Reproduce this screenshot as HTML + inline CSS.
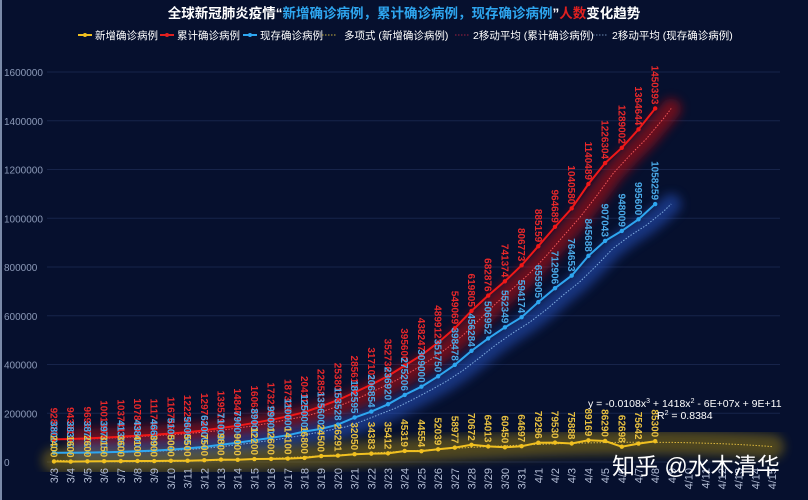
<!DOCTYPE html>
<html><head><meta charset="utf-8"><style>
html,body{margin:0;padding:0;background:#06102e;}
svg{display:block;font-family:"Liberation Sans","Noto Sans CJK SC",sans-serif;}
</style></head><body>
<svg width="808" height="500" viewBox="0 0 808 500">
<defs>
<filter id="glow" x="-20%" y="-50%" width="140%" height="200%"><feGaussianBlur stdDeviation="5"/></filter>
</defs>
<rect x="0" y="0" width="808" height="500" fill="#06102e"/>
<rect x="0" y="0" width="2" height="500" fill="#7a8aa8"/>
<text x="404" y="18" text-anchor="middle" font-size="13.5" font-weight="bold" fill="#ffffff">全球新冠肺炎疫情“<tspan fill="#2ea6f0">新增确诊病例，累计确诊病例，现存确诊病例</tspan>”<tspan fill="#e02020">人数</tspan>变化趋势</text>
<g id="legend" font-size="10.5" fill="#ffffff">
<g><line x1="78" y1="35" x2="92" y2="35" stroke="#f0c020" stroke-width="2"/><circle cx="85" cy="35" r="2" fill="#f0c020"/><text x="95" y="39">新增确诊病例</text></g>
<g><line x1="160" y1="35" x2="174" y2="35" stroke="#e02020" stroke-width="2"/><circle cx="167" cy="35" r="2" fill="#e02020"/><text x="177" y="39">累计确诊病例</text></g>
<g><line x1="243" y1="35" x2="257" y2="35" stroke="#2ea6f0" stroke-width="2"/><circle cx="250" cy="35" r="2" fill="#2ea6f0"/><text x="260" y="39">现存确诊病例</text></g>
<g><line x1="322" y1="35" x2="336" y2="35" stroke="#c8b040" stroke-dasharray="1.5,1.5"/><text x="344" y="39">多项式 (新增确诊病例)</text></g>
<g><line x1="455" y1="35" x2="470" y2="35" stroke="#a02040" stroke-dasharray="1.5,1.5"/><text x="473" y="39">2移动平均 (累计确诊病例)</text></g>
<g><line x1="593" y1="35" x2="608" y2="35" stroke="#6a88b0" stroke-dasharray="1.5,1.5"/><text x="612" y="39">2移动平均 (现存确诊病例)</text></g>
</g>
<g id="grid"></g><g id="glows"></g><g id="lines"></g><g id="labels"></g><g id="xaxis"></g>
<g fill="#ffffff" font-size="10.5">
<text x="588" y="407">y = -0.0108x<tspan font-size="7" dy="-4">3</tspan><tspan dy="4"> + 1418x</tspan><tspan font-size="7" dy="-4">2</tspan><tspan dy="4"> - 6E+07x + 9E+11</tspan></text>
<text x="657" y="419">R<tspan font-size="7" dy="-4">2</tspan><tspan dy="4"> = 0.8384</tspan></text>
</g>
<text x="612" y="474" font-size="23" fill="#ffffff">知乎 @水木清华</text>
</svg>
<script>
const categories=["3/3","3/4","3/5","3/6","3/7","3/8","3/9","3/10","3/11","3/12","3/13","3/14","3/15","3/16","3/17","3/18","3/19","3/20","3/21","3/22","3/23","3/24","3/25","3/26","3/27","3/28","3/29","3/30","3/31","4/1","4/2","4/3","4/4","4/5","4/6","4/7","4/8","4/9","4/10","4/11","4/12","4/13","4/14","4/15"];
const newCases=[2400,1600,2600,3150,3600,4100,3900,5000,5500,7500,9800,9000,12200,12600,14100,16800,24500,26291,32050,34383,35412,45319,44554,52039,58977,70672,64013,60450,64697,79296,79530,75888,89169,86290,62698,75642,85300];
const cumulative=[92800,94381,96987,100139,103741,107849,111744,116746,122224,129754,139519,148467,160637,173218,187329,204111,228583,253801,285611,317101,352736,395600,438247,489912,549069,619805,682876,741374,806773,885159,964689,1040580,1140489,1226304,1289002,1364644,1450393];
const existing=[38000,38300,38700,39700,41300,43800,46600,51000,56000,62000,71000,79000,89000,99000,110000,125000,135600,153528,182595,206854,236920,275206,309000,351750,398478,456284,506952,552349,594174,655905,712906,764653,845688,907043,948009,995600,1058259];
const yTicks=[0,200000,400000,600000,800000,1000000,1200000,1400000,1600000];
const NS="http://www.w3.org/2000/svg";
const X0=54,STEP=16.7,Y0=462,YTOP=72,YMAX=1600000;
const xs=i=>X0+i*STEP;
const ys=v=>Y0-(v/YMAX)*(Y0-YTOP);
function mk(tag,attrs,parent){const e=document.createElementNS(NS,tag);for(const k in attrs)e.setAttribute(k,attrs[k]);parent.appendChild(e);return e;}
const grid=document.getElementById('grid');
yTicks.forEach(t=>{
  const l=mk('line',{x1:47,x2:780,y1:ys(t),y2:ys(t),stroke:'#17244a','stroke-width':1},grid);
  
  
  const tx=mk('text',{x:4,y:ys(t)+4,'font-size':10,fill:'#8c9ab8'},grid);
  tx.textContent=t;
  
  
});
const xa=document.getElementById('xaxis');
categories.forEach((c,i)=>{
  const t=mk('text',{transform:`translate(${xs(i)+4},468) rotate(-90)`,'text-anchor':'end','font-size':11,fill:'#b4bed6'},xa);
  t.textContent=c;
  
  
});
function path(pts){return pts.map((p,i)=>(i?'L':'M')+p[0].toFixed(1)+','+p[1].toFixed(1)).join(' ');}
function ma(arr){const r=[];for(let i=1;i<arr.length;i++)r.push([xs(i)+8,ys((arr[i]+arr[i-1])/2)]);r.push([xs(arr.length-1)+16,ys(arr[arr.length-1])]);return r;}
function cubicFit(v){const n=v.length;const M=[[0,0,0,0],[0,0,0,0],[0,0,0,0],[0,0,0,0]],B=[0,0,0,0];
 for(let i=0;i<n;i++){const x=i/10;const p=[1,x,x*x,x*x*x];for(let a=0;a<4;a++){B[a]+=p[a]*v[i];for(let b=0;b<4;b++)M[a][b]+=p[a]*p[b];}}
 for(let c=0;c<4;c++){let piv=c;for(let r=c+1;r<4;r++)if(Math.abs(M[r][c])>Math.abs(M[piv][c]))piv=r;[M[c],M[piv]]=[M[piv],M[c]];[B[c],B[piv]]=[B[piv],B[c]];
  for(let r=0;r<4;r++)if(r!==c){const f=M[r][c]/M[c][c];for(let k=0;k<4;k++)M[r][k]-=f*M[c][k];B[r]-=f*B[c];}}
 return B.map((b,i)=>b/M[i][i]);}
const co=cubicFit(newCases);
const polyPts=[];for(let i=0;i<categories.length;i++){const x=i/10;polyPts.push([xs(i),ys(co[0]+co[1]*x+co[2]*x*x+co[3]*x*x*x)]);}
const series=[
 {d:cumulative,c:'#f01818',g:'#d01010',lab:'#e8282a',trend:ma(cumulative),tc:'#ff6060',name:'cumulative',gw:20,go:0.5},
 {d:existing,c:'#2ea6f0',g:'#2a5ad0',lab:'#4aaae8',trend:ma(existing),tc:'#8ab8e8',name:'existing',gw:20,go:0.5},
 {d:newCases,c:'#f0c020',g:'#a88a10',lab:'#e8c040',trend:polyPts,tc:'#e8c040',name:'new',gw:24,go:0.45}
];
const glows=document.getElementById('glows'),lines=document.getElementById('lines'),labels=document.getElementById('labels');
series.forEach(s=>{
  const g=mk('path',{d:path(s.trend),stroke:s.g,'stroke-width':s.gw,fill:'none','stroke-linecap':'round',opacity:s.go,filter:'url(#glow)'},glows);
  
  
  const tr=mk('path',{d:path(s.trend),stroke:s.tc,'stroke-width':1,fill:'none','stroke-dasharray':'1.5,1.5',opacity:0.9},lines);
  
  
  const pts=s.d.map((v,i)=>[xs(i),ys(v)]);
  const l=mk('path',{d:path(pts),stroke:s.c,'stroke-width':2,fill:'none'},lines);
  
  
  s.d.forEach((v,i)=>{
    const c=mk('circle',{cx:xs(i),cy:ys(v),r:2.2,fill:s.c},lines);
    
    
    const t=mk('text',{transform:`translate(${xs(i)-3.5},${ys(v)-4}) rotate(90)`,'text-anchor':'end','font-size':10,'font-weight':'bold',fill:s.lab,'font-family':'"Liberation Sans Narrow","Liberation Sans",sans-serif'},labels);
    t.textContent=v;
    
    
  });
});
</script>
</body></html>
